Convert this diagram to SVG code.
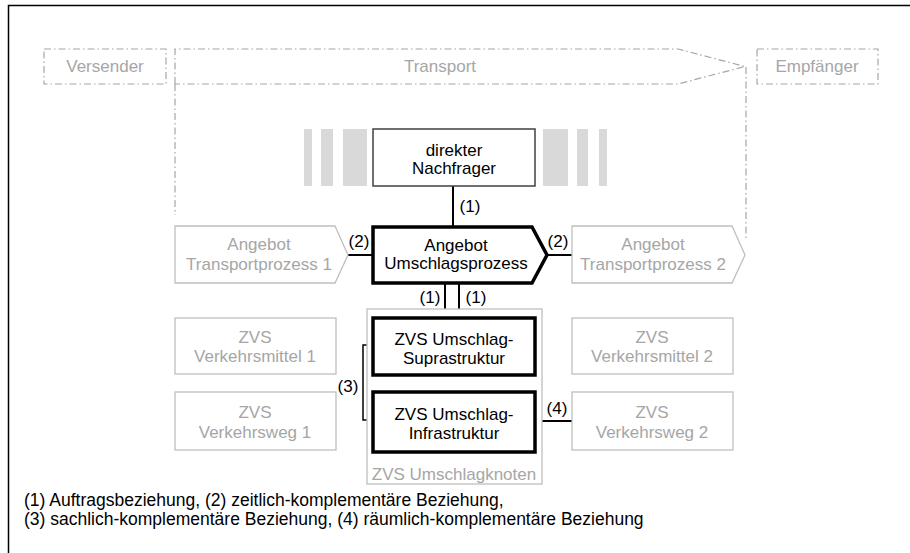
<svg xmlns="http://www.w3.org/2000/svg" width="910" height="553" viewBox="0 0 910 553">
<style>
text{font-family:"Liberation Sans",Arial,sans-serif;font-size:17px;text-anchor:middle}
.g{fill:#a6a6a6}
.k{fill:#000}
.dd{fill:none;stroke:#a6a6a6;stroke-width:1.2;stroke-dasharray:7,3,1.5,3}
.lg{fill:#fff;stroke:#bfbfbf;stroke-width:1.3}
.bar{fill:#d9d9d9}
.thick{fill:#fff;stroke:#000;stroke-width:3.5}
.thin{fill:#fff;stroke:#404040;stroke-width:1.5}
.c{fill:none;stroke:#000;stroke-width:2}
.foot{text-anchor:start;font-size:17.5px}
</style>
<rect width="910" height="553" fill="#fff"/>
<path d="M8.5,553 V5.5 H910" fill="none" stroke="#000" stroke-width="1.5"/>
<g id="versender"><rect class="dd" x="44" y="49" width="122" height="35"/><text class="g" x="105" y="72">Versender</text></g>
<g id="transport"><path class="dd" d="M175,84 V49 H678 L745,66.5 L678,84 Z"/><text class="g" x="440" y="72">Transport</text></g>
<g id="empfaenger"><rect class="dd" x="757" y="49" width="121" height="35"/><text class="g" x="817" y="72">Empfänger</text></g>
<g id="bars"><rect class="bar" x="304" y="129" width="8" height="57"/><rect class="bar" x="321" y="129" width="12" height="57"/><rect class="bar" x="343" y="129" width="24" height="57"/><rect class="bar" x="543" y="129" width="25" height="57"/><rect class="bar" x="577" y="129" width="11" height="57"/><rect class="bar" x="599" y="129" width="8" height="57"/></g>
<g id="connectors">
<path class="dd" d="M175,84 V215 M746,67 V238"/>
<path class="c" d="M453,186 V227 M348,255 H373 M547,255 H572 M445,283 V318 M459,283 V318 M459,375 V392 M535,421 H572"/>
<path d="M373,345 H363 V420 H373" fill="none" stroke="#000" stroke-width="1.5"/>
<text class="k" x="470" y="212">(1)</text>
<text class="k" x="359" y="247">(2)</text>
<text class="k" x="558" y="247">(2)</text>
<text class="k" x="430" y="303">(1)</text>
<text class="k" x="476" y="303">(1)</text>
<text class="k" x="348" y="392">(3)</text>
<text class="k" x="557" y="414">(4)</text>
</g>
<g id="nachfrager"><rect class="thin" x="373" y="129" width="162" height="57"/><text class="k" x="454" y="156">direkter</text><text class="k" x="454" y="174">Nachfrager</text></g>
<g id="umschlagsprozess"><path class="thick" d="M373,227 H532 L547,255 L532,283 H373 Z"/><text class="k" x="456" y="251">Angebot</text><text class="k" x="456" y="269">Umschlagsprozess</text></g>
<g id="transport1"><path class="lg" d="M175,226 H335 L348,255 L335,283 H175 Z"/><text class="g" x="259" y="250">Angebot</text><text class="g" x="259" y="270">Transportprozess 1</text></g>
<g id="transport2"><path class="lg" d="M572,226 H732 L745,255 L732,283 H572 Z"/><text class="g" x="653" y="250">Angebot</text><text class="g" x="653" y="270">Transportprozess 2</text></g>
<g id="umschlagknoten"><rect class="lg" x="367" y="309" width="175" height="175" fill="none"/><text class="g" x="454" y="480">ZVS Umschlagknoten</text></g>
<g id="supra"><rect class="thick" x="373" y="318" width="162" height="57"/><text class="k" x="454" y="345">ZVS Umschlag-</text><text class="k" x="454" y="364">Suprastruktur</text></g>
<g id="infra"><rect class="thick" x="373" y="392" width="162" height="60"/><text class="k" x="454" y="420">ZVS Umschlag-</text><text class="k" x="454" y="439">Infrastruktur</text></g>
<g id="vm1"><rect class="lg" x="175" y="318" width="161" height="56"/><text class="g" x="255" y="343">ZVS</text><text class="g" x="255" y="362">Verkehrsmittel 1</text></g>
<g id="vw1"><rect class="lg" x="175" y="392" width="161" height="58"/><text class="g" x="255" y="418">ZVS</text><text class="g" x="255" y="438">Verkehrsweg 1</text></g>
<g id="vm2"><rect class="lg" x="572" y="318" width="161" height="56"/><text class="g" x="652" y="343">ZVS</text><text class="g" x="652" y="362">Verkehrsmittel 2</text></g>
<g id="vw2"><rect class="lg" x="572" y="392" width="161" height="58"/><text class="g" x="652" y="418">ZVS</text><text class="g" x="652" y="438">Verkehrsweg 2</text></g>
<g id="legend"><text class="k foot" x="24" y="506">(1) Auftragsbeziehung, (2) zeitlich-komplementäre Beziehung,</text><text class="k foot" x="24" y="525">(3) sachlich-komplementäre Beziehung, (4) räumlich-komplementäre Beziehung</text></g>
</svg>
